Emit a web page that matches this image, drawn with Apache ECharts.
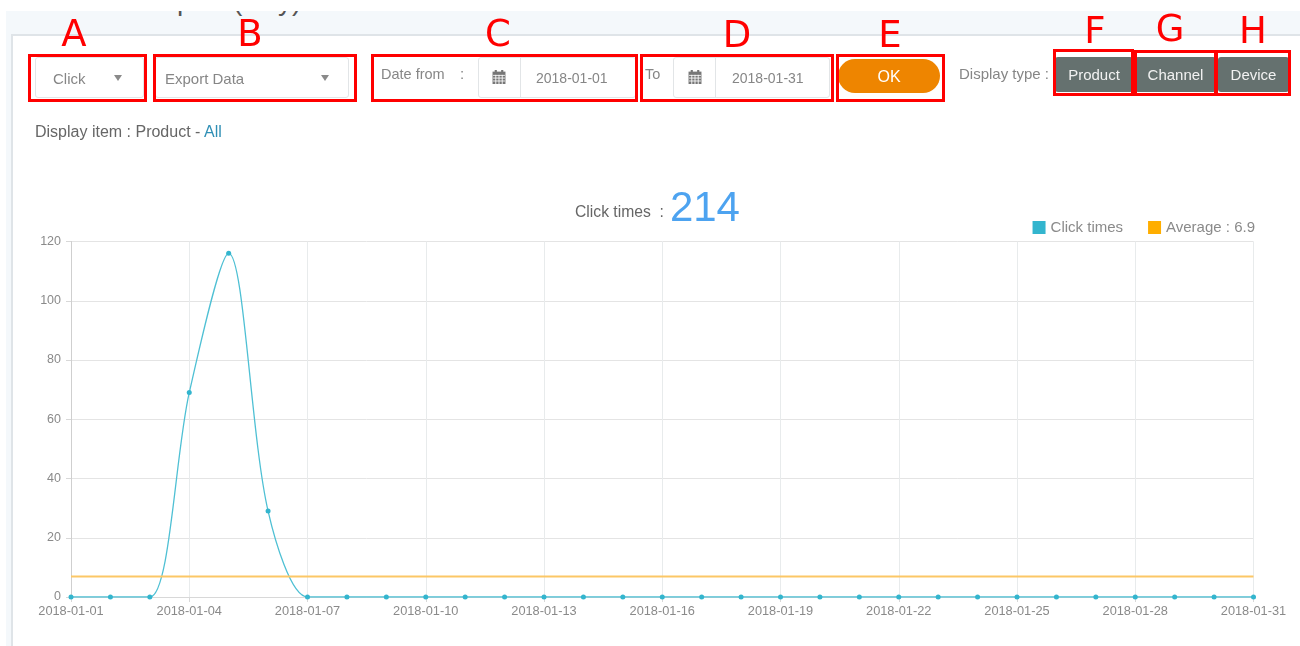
<!DOCTYPE html>
<html><head><meta charset="utf-8">
<script src="https://cdn.jsdelivr.net/npm/echarts@6/dist/echarts.min.js"></script>
<style>
html,body{margin:0;padding:0;width:1300px;height:646px;overflow:hidden;background:#fff;font-family:"Liberation Sans",Arial,sans-serif;}
#chart{position:absolute;left:0;top:0;width:1300px;height:646px;}
.a{position:absolute;box-sizing:border-box;white-space:nowrap;}
.box{border:1px solid #e2e5e7;border-radius:3px;background:#fff;}
.t{color:#868686;font-size:15px;line-height:18px;}
.red{border:3px solid #f00;}
.let{color:#f00;font-family:"DejaVu Sans",sans-serif;font-size:37px;line-height:40px;text-align:center;width:40px;}
.caret{width:0;height:0;border-left:4.5px solid transparent;border-right:4.5px solid transparent;border-top:6px solid #8a8a8a;}
.btn{background:#65716f;border-radius:3px;color:#f2f2f2;font-size:15px;text-align:center;height:35px;line-height:35px;}
</style></head><body>
<div class="a" style="left:6px;top:11px;width:1294px;height:635px;background:#f4f8fb"></div>
<div class="a" style="left:6px;top:11px;width:400px;height:6px;overflow:hidden"><div class="a" style="left:9px;top:-26px;font-size:28px;line-height:32px;color:#555">Individual Report (Day)</div></div>
<div class="a" style="left:11px;top:34px;width:1289px;height:612px;background:#fff;border-left:2px solid #dfe4e8;border-top:2px solid #dfe4e8"></div>
<div id="chart"></div>
<div id="ui"></div>
<script>
const categories = ["2018-01-01","2018-01-02","2018-01-03","2018-01-04","2018-01-05","2018-01-06","2018-01-07","2018-01-08","2018-01-09","2018-01-10","2018-01-11","2018-01-12","2018-01-13","2018-01-14","2018-01-15","2018-01-16","2018-01-17","2018-01-18","2018-01-19","2018-01-20","2018-01-21","2018-01-22","2018-01-23","2018-01-24","2018-01-25","2018-01-26","2018-01-27","2018-01-28","2018-01-29","2018-01-30","2018-01-31"];
const clickTimes = [0,0,0,69,116,29,0,0,0,0,0,0,0,0,0,0,0,0,0,0,0,0,0,0,0,0,0,0,0,0,0];
const averageValues = [6.9,6.9,6.9,6.9,6.9,6.9,6.9,6.9,6.9,6.9,6.9,6.9,6.9,6.9,6.9,6.9,6.9,6.9,6.9,6.9,6.9,6.9,6.9,6.9,6.9,6.9,6.9,6.9,6.9,6.9,6.9];
const totalClicks = 214;
const seriesClick = "Click times";
const seriesAverage = "Average : 6.9";

const font = '"Liberation Sans",Arial,sans-serif';
const chart = echarts.init(document.getElementById('chart'), null, {renderer:'canvas'});
chart.setOption({
  animation:false,
  title:{
    text:'{l|Click times  :}{v|'+totalClicks+'}',
    left:570, top:183,
    textStyle:{fontWeight:'normal',rich:{
      l:{fontFamily:font,fontSize:15.7,fontWeight:'normal',color:'#666',padding:[8,0,0,0]},
      v:{fontFamily:font,fontSize:42,fontWeight:'normal',color:'#4da3f0',padding:[0,0,0,6]}
    }}
  },
  legend:{
    right:40, top:215, itemWidth:13, itemHeight:13, itemGap:25, icon:'rect',
    textStyle:{fontFamily:font,fontSize:15,color:'#8a8a8a'},
    data:[{name:seriesClick},{name:seriesAverage}]
  },
  grid:{left:71,right:46.5,top:241.5,bottom:49,containLabel:false},
  xAxis:{
    type:'category',boundaryGap:false,data:categories,
    axisLine:{lineStyle:{color:'#d8d8d8'}},
    axisTick:{show:true,interval:2,length:5,lineStyle:{color:'#d8d8d8'}},
    axisLabel:{interval:2,color:'#8a8a8a',fontFamily:font,fontSize:12.8,margin:8,showMinLabel:true,showMaxLabel:true},
    splitLine:{show:true,interval:2,lineStyle:{color:'#e8ebec'}}
  },
  yAxis:{
    type:'value',min:0,max:120,interval:20,
    axisLine:{show:true,lineStyle:{color:'#cfcfcf'}},
    axisTick:{show:true,length:5,lineStyle:{color:'#d8d8d8'}},
    axisLabel:{color:'#8a8a8a',fontFamily:font,fontSize:12.5,margin:10},
    splitLine:{show:true,lineStyle:{color:'#e4e4e4'}}
  },
  series:[
    {name:seriesClick,type:'line',data:clickTimes,smooth:0.3,symbol:'circle',symbolSize:5,
     itemStyle:{color:'#33b5ce'},lineStyle:{width:1.3,color:'#4fc0d4'}},
    {name:seriesAverage,type:'line',data:averageValues,symbol:'none',
     itemStyle:{color:'#ffae00'},lineStyle:{width:2,color:'#fcc766'}}
  ]
});

const ui = document.getElementById('ui');
function el(cls,l,t,w,h,html,extra){
  const d=document.createElement('div');d.className='a '+cls;
  d.style.cssText=`left:${l}px;top:${t}px;`+(w!=null?`width:${w}px;`:'')+(h!=null?`height:${h}px;`:'')+(extra||'');
  if(html!=null)d.innerHTML=html;ui.appendChild(d);return d;
}
const cal=(l,t)=>{
  const s=`<svg class="a" style="left:${l}px;top:${t}px" width="14" height="16" viewBox="0 0 13 14"><rect x="0.5" y="2" width="12" height="11.5" fill="#777"/><rect x="2.5" y="0.5" width="2" height="3" fill="#777"/><rect x="8.5" y="0.5" width="2" height="3" fill="#777"/><path d="M1 5.5H12M1 8H12M1 10.7H12M3.5 5V13.5M6.5 5V13.5M9.5 5V13.5" stroke="#fff" stroke-width=".8"/></svg>`;
  ui.insertAdjacentHTML('beforeend',s);
};
// controls
el('box',35,57,109,41);
el('t',53,70,null,null,'Click');
el('caret',114,75);
el('box',155,57,194,41);
el('t',165,70,null,null,'Export Data');
el('caret',321,75);
el('t',381,65,null,null,'Date from','font-size:14.5px');
el('t',460,65,null,null,':');
el('box',478,57,158,41);
el('',520,57,1,41,'','background:#e2e5e7');
cal(492,69);
el('t',536,69,null,null,'2018-01-01','font-size:14px');
el('t',645,65,null,null,'To','font-size:14.5px');
el('box',673,57,157,41);
el('',715,57,1,41,'','background:#e2e5e7');
cal(688,69);
el('t',732,69,null,null,'2018-01-31','font-size:14px');
el('',838,59,102,34,'OK','background:#ee8500;border-radius:17px;color:#fff;font-size:16px;line-height:35px;text-align:center');
el('t',959,65,null,null,'Display type :');
el('btn',1055,57,78,35,'Product');
el('btn',1135,57,81,35,'Channel');
el('btn',1218,57,71,35,'Device');
el('t',35,123,null,null,'Display item : Product - <span style="color:#2f8fb5">All</span>','color:#666;font-size:16px');
// red annotations
[[28,54,119,48],[153,54,204,48],[371,54,267,48],[640,54,194,48],[836,54,109,48],[1053,49,81,47],[1134,50,83,46],[1215,50,76,46]].forEach(b=>el('red',b[0],b[1],b[2],b[3]));
[['A',54,14],['B',230,14],['C',478,14],['D',717,15],['E',870,15],['F',1075,11],['G',1150,9],['H',1233,11]].forEach(b=>el('let',b[1],b[2],null,null,b[0]));
</script>
</body></html>
